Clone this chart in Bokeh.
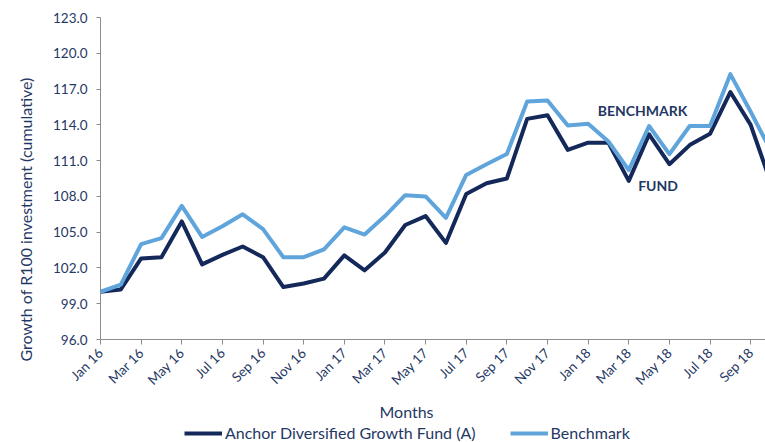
import math
from bokeh.plotting import figure
from bokeh.layouts import column, row
from bokeh.models import (Label, Legend, LegendItem, FixedTicker,
                          PrintfTickFormatter, Range1d, Title)
from bokeh.embed import file_html
from bokeh.resources import INLINE

months = ["Jan 16", "Feb 16", "Mar 16", "Apr 16", "May 16", "Jun 16",
          "Jul 16", "Aug 16", "Sep 16", "Oct 16", "Nov 16", "Dec 16",
          "Jan 17", "Feb 17", "Mar 17", "Apr 17", "May 17", "Jun 17",
          "Jul 17", "Aug 17", "Sep 17", "Oct 17", "Nov 17", "Dec 17",
          "Jan 18", "Feb 18", "Mar 18", "Apr 18", "May 18", "Jun 18",
          "Jul 18", "Aug 18", "Sep 18", "Oct 18"]

fund = [100.0, 100.2, 102.8, 102.9, 105.9, 102.3, 103.1, 103.8, 102.9, 100.4,
        100.7, 101.1, 103.05, 101.8, 103.3, 105.6, 106.35, 104.1, 108.2, 109.1,
        109.5, 114.5, 114.8, 111.9, 112.5, 112.5, 109.3, 113.2, 110.7, 112.3,
        113.25, 116.75, 114.0, 109.1]

benchmark = [100.0, 100.6, 104.0, 104.5, 107.2, 104.6, 105.5, 106.5, 105.25, 102.9,
             102.9, 103.55, 105.4, 104.8, 106.35, 108.1, 108.0, 106.2, 109.8, 110.7,
             111.55, 115.95, 116.05, 113.95, 114.1, 112.6, 110.2, 113.9, 111.55, 113.9,
             113.9, 118.25, 115.1, 111.8]

y_ticks = [96, 99, 102, 105, 108, 111, 114, 117, 120, 123]

series_names = ["Anchor Diversified Growth Fund (A)", "Benchmark"]

NAVY = "#1F3864"
FUND_C = "#14295A"
BENCH_C = "#5FA5DC"
AXIS_C = "#8C8C8C"
FONT = "Lato"

x = list(range(len(months)))
tick_idx = x[::2]

# ---- main chart ----
p = figure(width=765, height=396, output_backend="svg", toolbar_location=None,
           x_range=Range1d(0, 32.73), y_range=Range1d(96, 123),
           min_border_left=99, min_border_right=0, min_border_top=17,
           min_border_bottom=50)
p.outline_line_color = None
p.xgrid.visible = False
p.ygrid.visible = False

r_fund = p.line(x, fund, line_color=FUND_C, line_width=4, line_join="round")
r_bench = p.line(x, benchmark, line_color=BENCH_C, line_width=4, line_join="round")

xa = p.xaxis[0]
xa.ticker = FixedTicker(ticks=tick_idx)
xa.major_label_overrides = {i: months[i] for i in tick_idx}
xa.major_label_orientation = math.pi / 4
xa.minor_tick_line_color = None
xa.major_tick_in = 0
xa.major_tick_out = 5
xa.axis_line_color = AXIS_C
xa.major_tick_line_color = AXIS_C
xa.major_label_text_font = FONT
xa.major_label_text_font_size = "13.5px"
xa.major_label_text_color = NAVY
xa.major_label_standoff = 6

ya = p.yaxis[0]
ya.ticker = FixedTicker(ticks=y_ticks)
ya.formatter = PrintfTickFormatter(format="%.1f")
ya.minor_tick_line_color = None
ya.major_tick_in = 0
ya.major_tick_out = 4
ya.axis_line_color = AXIS_C
ya.major_tick_line_color = AXIS_C
ya.major_label_text_font = FONT
ya.major_label_text_font_size = "13.5px"
ya.major_label_text_color = NAVY
ya.major_label_standoff = 9

# y-axis title: starts just below the frame bottom and reads upward
p.add_layout(Title(text="Growth of R100 investment (cumulative)", align="left",
                   offset=-22, vertical_align="middle", standoff=28,
                   text_font=FONT, text_font_size="16px", text_font_style="normal",
                   text_color=NAVY), "left")

p.add_layout(Label(x=26.68, y=115.2, text="BENCHMARK", text_align="center",
                   text_baseline="middle", text_font=FONT, text_font_style="bold",
                   text_font_size="14px", text_color=NAVY))
p.add_layout(Label(x=27.44, y=108.9, text="FUND", text_align="center",
                   text_baseline="middle", text_font=FONT, text_font_style="bold",
                   text_font_size="14px", text_color=NAVY))

# ---- x-axis title + legend strip (pixel-space figure) ----
legfig = figure(width=765, height=46, output_backend="svg", toolbar_location=None,
                x_axis_location=None, y_axis_location=None,
                x_range=Range1d(0, 765), y_range=Range1d(0, 46), min_border=0)
legfig.outline_line_color = None
legfig.xgrid.visible = False
legfig.ygrid.visible = False
legfig.add_layout(Label(x=406, y=31, text="Months", text_align="center",
                        text_baseline="middle", text_font=FONT,
                        text_font_size="16px", text_color=NAVY))
# legend proxies: same series, far outside this strip's visible range
lg_fund = legfig.line(x, fund, line_color=FUND_C, line_width=4)
lg_bench = legfig.line(x, benchmark, line_color=BENCH_C, line_width=4)
legend = Legend(items=[LegendItem(label=series_names[0], renderers=[lg_fund]),
                       LegendItem(label=series_names[1], renderers=[lg_bench])],
                orientation="horizontal", location=(184, 0), glyph_width=38,
                glyph_height=16, label_height=16, label_standoff=3, spacing=34,
                padding=0, margin=0, border_line_color=None,
                background_fill_alpha=0, label_text_font=FONT,
                label_text_font_size="16px", label_text_color=NAVY)
legfig.add_layout(legend, "center")

layout = column(row(p, spacing=0), legfig, spacing=0)

open("out.html", "w").write(file_html(layout, INLINE))
